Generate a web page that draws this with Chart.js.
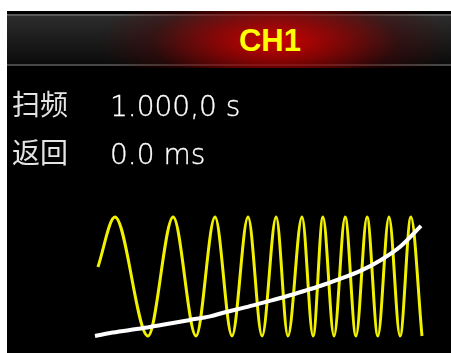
<!DOCTYPE html>
<html>
<head>
<meta charset="utf-8">
<script src="https://cdn.jsdelivr.net/npm/chart.js@4.4.0/dist/chart.umd.min.js"></script>
<style>
  html, body { margin: 0; padding: 0; }
  body { width: 451px; height: 353px; background: #fff; position: relative; overflow: hidden; }
  #panel { position: absolute; left: 7px; top: 11px; right: 0; bottom: 0; background: #000; }
  #header {
    position: absolute; left: 7px; top: 11px; width: 444px; height: 57px;
    background:
      radial-gradient(ellipse 175px 62px at 268px 30px, rgba(215,0,0,0.95) 0%, rgba(165,0,0,0.75) 35%, rgba(90,0,0,0.35) 70%, rgba(0,0,0,0) 100%),
      linear-gradient(to bottom, #000 0, #000 3px, #5a5a5a 3px, #5a5a5a 5px, #2c2c2c 5px, #0b0b0b 53px, #464646 53px, #464646 55px, #000 55px);
  }
  #title {
    position: absolute; left: 7px; top: 12px; width: 526px; height: 57px;
    font: bold 31px "Liberation Sans", Arial, sans-serif; line-height: 57px;
    text-align: center; color: #ffff00;
  }
  .lbl { position: absolute; left: 12px; font: 28px "Noto Sans CJK SC", sans-serif; line-height: 28px; color: #e4e4e4; will-change: transform; }
  .val { position: absolute; left: 110px; font: 200 28px "DejaVu Sans", sans-serif; line-height: 28px; color: #ffffff; will-change: transform; -webkit-text-stroke: 0.3px #ffffff; }
  #wave { position: absolute; left: 85px; top: 200px; }
</style>
</head>
<body>
<div id="panel"></div>
<div id="header"></div>
<div id="title"></div>
<div class="lbl" id="lblSweep" style="top:89px"></div>
<div class="val" id="valSweep" style="top:93px"></div>
<div class="lbl" id="lblReturn" style="top:137px"></div>
<div class="val" id="valReturn" style="top:141px"></div>
<canvas id="wave" width="347" height="153"></canvas>
<script>
// texts
const channelName = 'CH1';
const paramNames = ['扫频', '返回'];
const paramValues = ['1.000,0 s', '0.0 ms'];

// yellow sweep signal: time (ms) and level (peak = 1, trough = -1)
const signalTime = [9, 61, 162, 239, 309, 367, 419, 468, 511, 554, 590, 633, 667, 697, 731, 765, 798, 832, 865, 899, 933, 966, 1000];
const signalLevel = [0.16, 1, -1, 1, -1, 1, -1, 1, -1, 1, -1, 1, -1, 1, -1, 1, -1, 1, -1, 1, -1, 1, -1];

// white sweep curve
const rampTime = [0, 46, 107, 168, 229, 291, 352, 398, 459, 520, 581, 642, 688, 749, 810, 872, 933, 997];
const rampLevel = [-1.0, -0.95, -0.90, -0.85, -0.79, -0.73, -0.67, -0.60, -0.52, -0.43, -0.34, -0.24, -0.16, -0.04, 0.09, 0.27, 0.50, 0.85];

document.getElementById('title').textContent = channelName;
document.getElementById('lblSweep').textContent = paramNames[0];
document.getElementById('lblReturn').textContent = paramNames[1];
document.getElementById('valSweep').textContent = paramValues[0];
document.getElementById('valReturn').textContent = paramValues[1];

const toPoints = (xs, ys) => xs.map((x, i) => ({ x: x, y: ys[i] }));

new Chart(document.getElementById('wave'), {
  type: 'line',
  data: {
    datasets: [
      {
        label: 'ramp',
        data: toPoints(rampTime, rampLevel),
        borderColor: '#ffffff',
        borderWidth: 4,
        pointRadius: 0,
        cubicInterpolationMode: 'monotone',
        clip: false
      },
      {
        label: 'signal',
        data: toPoints(signalTime, signalLevel),
        borderColor: '#f2f200',
        borderWidth: 3,
        pointRadius: 0,
        cubicInterpolationMode: 'monotone',
        clip: false
      }
    ]
  },
  options: {
    responsive: false,
    animation: false,
    events: [],
    layout: { padding: 0 },
    plugins: { legend: { display: false }, tooltip: { enabled: false } },
    scales: {
      x: { type: 'linear', display: false, min: -30.6, max: 1030.6 },
      y: { type: 'linear', display: false, min: -1.286, max: 1.286 }
    }
  }
});
</script>
</body>
</html>
